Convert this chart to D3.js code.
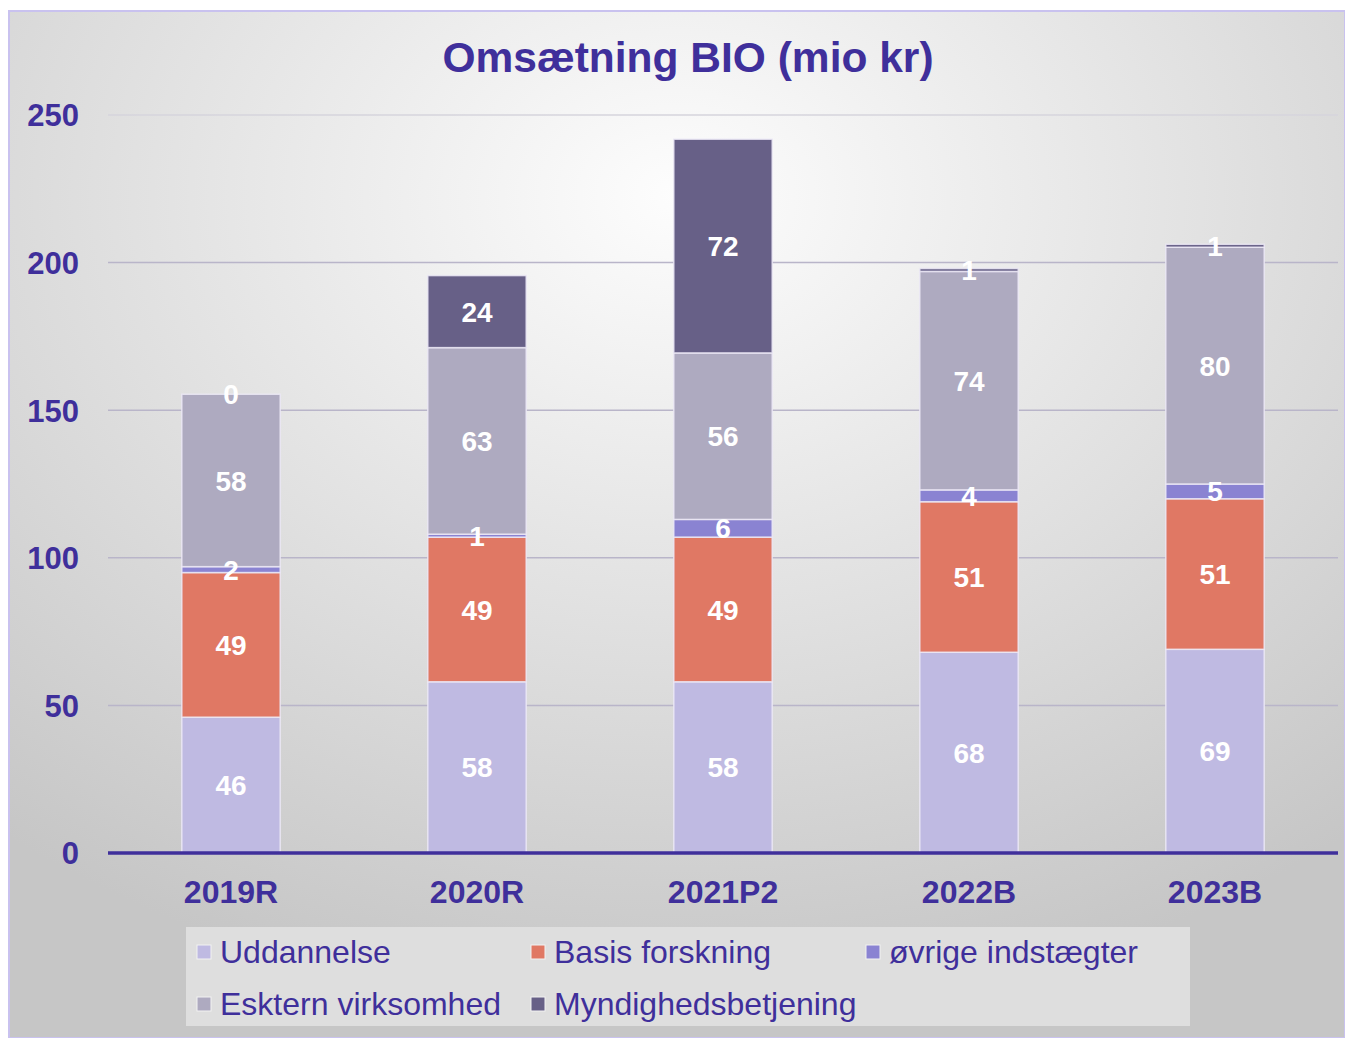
<!DOCTYPE html>
<html><head><meta charset="utf-8">
<script src="https://cdn.jsdelivr.net/npm/d3@7"></script>
<style>html,body{margin:0;padding:0;background:#fff;}svg{display:block;}</style>
</head><body>
<script>
const categories = ["2019R","2020R","2021P2","2022B","2023B"];
const seriesNames = ["Uddannelse","Basis forskning","øvrige indstægter","Esktern virksomhed","Myndighedsbetjening"];
const uddannelse = [46,58,58,68,69];
const basisForskning = [49,49,49,51,51];
const ovrige = [2,1,6,4,5];
const ekstern = [58.4,63.2,56.4,74,80.2];
const myndighed = [0,24.4,72.4,1,1];
const yTicks = [0,50,100,150,200,250];
const colors = ["#bfbae2","#e07864","#8a83d2","#aeaac0","#676087"];

const W=1345,H=1038;
const svg=d3.select("body").append("svg").attr("width",W).attr("height",H);
const defs=svg.append("defs");
const g1=defs.append("radialGradient").attr("id","bg").attr("cx","50%").attr("cy","18%").attr("r","80%");
g1.append("stop").attr("offset","0%").attr("stop-color","#fdfdfd");
g1.append("stop").attr("offset","100%").attr("stop-color","#c6c6c6");
svg.append("rect").attr("x",9).attr("y",11).attr("width",W-9).attr("height",H-11)
  .attr("fill","url(#bg)").attr("stroke","#c9c2ef").attr("stroke-width",2);

const textColor="#3f2f9b";
const font="Liberation Sans, Arial, sans-serif";
const seriesVals=[uddannelse,basisForskning,ovrige,ekstern,myndighed];
const data=categories.map((c,i)=>{const o={cat:c};seriesNames.forEach((s,k)=>o[s]=seriesVals[k][i]);return o;});
const stack=d3.stack().keys(seriesNames)(data);

const x=d3.scaleBand().domain(categories).range([108,1338]).paddingInner(0.6).paddingOuter(0.3);
const y=d3.scaleLinear().domain([0,250]).range([853,115]);

// grid
svg.append("g").selectAll("line").data(yTicks.filter(d=>d>0)).join("line")
  .attr("x1",108).attr("x2",1338).attr("y1",d=>y(d)).attr("y2",d=>y(d))
  .attr("stroke",d=>d===250?"#d6d4dc":"#b9b5c9").attr("stroke-width",1.5);

// y axis labels
const yAxis=d3.axisLeft(y).tickValues(yTicks).tickSize(0).tickPadding(0);
const ya=svg.append("g").attr("transform","translate(79,0)").call(yAxis);
ya.select(".domain").remove();
ya.selectAll("text").attr("fill",textColor).attr("font-family",font)
  .attr("font-size",31).attr("font-weight","bold").attr("dy","0.35em");

// bars
const layers=svg.append("g").selectAll("g").data(stack).join("g").attr("fill",(d,i)=>colors[i]);
layers.selectAll("rect").data(d=>d).join("rect")
  .attr("x",d=>x(d.data.cat)).attr("width",x.bandwidth())
  .attr("y",d=>y(d[1])).attr("height",d=>y(d[0])-y(d[1]))
  .attr("stroke","#ece9f6").attr("stroke-width",1.5).attr("stroke-opacity",0.85);

// baseline
svg.append("line").attr("x1",108).attr("x2",1338).attr("y1",y(0)).attr("y2",y(0))
  .attr("stroke",textColor).attr("stroke-width",3.5);

// x axis
const xAxis=d3.axisBottom(x).tickSize(0).tickPadding(0);
const xa=svg.append("g").attr("transform","translate(0,892)").call(xAxis);
xa.select(".domain").remove();
xa.selectAll("text").attr("fill",textColor).attr("font-family",font)
  .attr("font-size",32).attr("font-weight","bold").attr("dy","0.35em");

// labels
const lbl=svg.append("g");
stack.forEach((s,k)=>{
  s.forEach(d=>{
    lbl.append("text").attr("x",x(d.data.cat)+x.bandwidth()/2).attr("y",(y(d[0])+y(d[1]))/2)
      .attr("dy","0.36em").attr("text-anchor","middle").attr("fill","#ffffff")
      .attr("font-family",font).attr("font-size",28).attr("font-weight","bold")
      .text(d3.format(".0f")(d[1]-d[0]));
  });
});

// title
svg.append("text").attr("x",688).attr("y",72).attr("text-anchor","middle").attr("fill",textColor)
  .attr("font-family",font).attr("font-size",42.5).attr("font-weight","bold")
  .text("Omsætning BIO (mio kr)");

// legend
svg.append("rect").attr("x",186).attr("y",927).attr("width",1004).attr("height",99).attr("fill","#dedede");
const legPos=[[197,952],[531,952],[866,952],[197,1004],[531,1004]];
seriesNames.forEach((s,i)=>{
  const [lx,ly]=legPos[i];
  svg.append("rect").attr("x",lx).attr("y",ly-7).attr("width",14).attr("height",14).attr("fill",colors[i])
    .attr("stroke","#f2f2f2").attr("stroke-width",1);
  svg.append("text").attr("x",lx+23).attr("y",ly).attr("dy","0.35em").attr("fill",textColor)
    .attr("font-family",font).attr("font-size",32).text(s);
});
</script>
</body></html>
